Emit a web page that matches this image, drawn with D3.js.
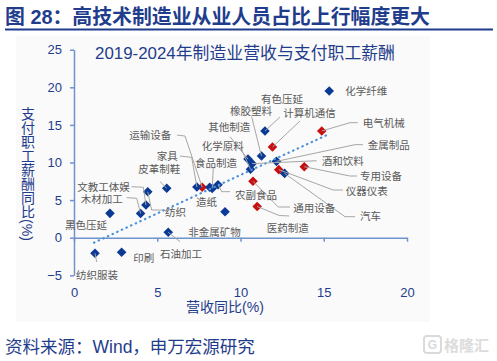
<!DOCTYPE html>
<html>
<head>
<meta charset="utf-8">
<script src="https://cdn.jsdelivr.net/npm/d3@7"></script>
<style>
    html, body { margin: 0; padding: 0; background: #fff; }
    svg { display: block; font-family: "Liberation Sans", "Noto Sans CJK SC", sans-serif; }
</style>
</head>
<body>
<div id="chart"></div>
<script>
const width = 497;
const height = 361;

// industries, revenue growth (x) and pay growth (y), red = highlighted group
const industries = ["化学纤维", "有色压延", "橡胶塑料", "计算机通信", "其他制造", "电气机械", "化学原料",
    "酒和饮料", "金属制品", "运输设备", "家具", "食品制造", "造纸", "农副食品", "皮革制鞋", "专用设备",
    "文教工体娱", "纺织", "木材加工", "仪器仪表", "汽车", "通用设备", "医药制造", "黑色压延",
    "非金属矿物", "石油加工", "印刷", "纺织服装"];
const revenueGrowth = [15.33, 11.47, 11.26, 11.92, 10.45, 14.88, 10.6,
    10.7, 12.16, 7.7, 7.38, 8.3, 8.15, 8.65, 5.57, 13.83,
    4.32, 4.43, 4.0, 12.3, 12.65, 10.75, 11.0, 2.16,
    9.07, 5.66, 2.86, 1.26];
const payGrowth = [19.5, 14.19, 10.86, 12.06, 10.45, 14.19, 9.1,
    9.85, 10.15, 6.7, 6.75, 6.55, 6.7, 7.05, 6.57, 9.44,
    4.35, 6.1, 3.22, 9.05, 8.55, 7.5, 4.15, 3.24,
    3.46, 0.72, -1.94, -2.07];
const highlighted = ["计算机通信", "电气机械", "运输设备", "专用设备", "仪器仪表", "通用设备", "医药制造"];

// dotted trend line
const trendX = [1.2, 15.2];
const trendY = [-0.66, 13.66];

const xTicks = [0, 5, 10, 15, 20];
const yTicks = [-5, 0, 5, 10, 15, 20, 25];

// label placement relative to each marker (px), with leader line elbows
const labelLayout = {
    "化学纤维": { dx: 16, dy: 0 },
    "有色压延": { dx: -4, dy: -31.7, leader: [[15, -14]] },
    "橡胶塑料": { dx: -31.5, dy: -45.3, leader: [[-9.8, -39.3]] },
    "计算机通信": { dx: 10.8, dy: -33.7, leader: [[27.5, -26]] },
    "其他制造": { dx: -39.7, dy: -32.4, leader: [[-18, -22.4]] },
    "电气机械": { dx: 40.9, dy: -8.3, leader: [[28.2, -8.3], [36, -8.3]] },
    "化学原料": { dx: -48.8, dy: -23.3, leader: [[-8.8, -19.3]] },
    "酒和饮料": { dx: 69.5, dy: -2.9, leader: [[64.5, -2.9]] },
    "金属制品": { dx: 91.2, dy: -16.1, leader: [[78.5, -16.7], [86.5, -16.7]] },
    "运输设备": { dx: -72.9, dy: -52.3, leader: [[-17.2, -51.3], [-25.2, -52.3]] },
    "家具": { dx: -40.2, dy: -30.9, leader: [[-5.2, -29.6], [-16.9, -30.9]] },
    "食品制造": { dx: -17.2, dy: -25.7, leader: [[1.1, -20.4]] },
    "造纸": { dx: -13.7, dy: 14.4 },
    "农副食品": { dx: 17, dy: 10.3, leader: [[3.7, 7], [12, 7]] },
    "皮革制鞋": { dx: -28.4, dy: -19, leader: [[-6.7, -6.6]] },
    "专用设备": { dx: 55.7, dy: 9.3, leader: [[45.7, 9.3], [52.7, 9.3]] },
    "文教工体娱": { dx: -68.6, dy: -17.7, leader: [[-2.6, -17.7], [-14.2, -18.3]] },
    "纺织": { dx: 17.2, dy: 19.9, leader: [[3.9, 18.2], [15.2, 18.2]] },
    "木材加工": { dx: -59.9, dy: -14.5, leader: [[-3.9, -15.2], [-13.9, -15.8]] },
    "仪器仪表": { dx: 66.9, dy: 21.4, leader: [[54.5, 20.4], [64.2, 20.4]] },
    "汽车": { dx: 75.4, dy: 42.6, leader: [[60.4, 43.3], [70.4, 43.3]] },
    "通用设备": { dx: 40.3, dy: 27, leader: [[25.3, 25.7], [37, 25.7]] },
    "医药制造": { dx: 9.5, dy: 21.8, leader: [[22, 9], [32, 9.5]] },
    "黑色压延": { dx: -45, dy: 11.7 },
    "非金属矿物": { dx: -36.7, dy: 20.6 },
    "石油加工": { dx: -8.2, dy: 22, leader: [[11.8, 9.4]] },
    "印刷": { dx: 11.7, dy: 6 },
    "纺织服装": { dx: -19, dy: 21.7, leader: [[1.7, 8.7]] }
};

const colors = {
    title: "#1f3d8c",
    axis: "#6f93cc",
    tick: "#1f3d8c",
    blue: "#0a3a94",
    red: "#c80f0f",
    label: "#595959",
    leader: "#a6a6a6",
    trend: "#4a90dc"
};

const points = industries.map((name, i) => ({
    name,
    x: revenueGrowth[i],
    y: payGrowth[i],
    hi: highlighted.includes(name)
}));

const svg = d3.select("#chart")
    .append("svg")
    .attr("width", width)
    .attr("height", height);

// header
svg.append("text")
    .attr("x", 5)
    .attr("y", 24)
    .attr("fill", colors.title)
    .attr("font-size", 20)
    .attr("font-weight", "bold")
    .attr("textLength", 425)
    .attr("lengthAdjust", "spacingAndGlyphs")
    .text("图 28：高技术制造业从业人员占比上行幅度更大");

svg.append("line")
    .attr("x1", 5).attr("x2", 493)
    .attr("y1", 29.5).attr("y2", 29.5)
    .attr("stroke", colors.title)
    .attr("stroke-width", 2);

// faint chart panel
svg.append("rect")
    .attr("x", 16).attr("y", 36)
    .attr("width", 414).attr("height", 286)
    .attr("fill", "#fafafa");

svg.append("text")
    .attr("x", 95)
    .attr("y", 53.5)
    .attr("dominant-baseline", "central")
    .attr("fill", colors.title)
    .attr("font-size", 17)
    .attr("textLength", 300)
    .attr("lengthAdjust", "spacingAndGlyphs")
    .text("2019-2024年制造业营收与支付职工薪酬");

const x = d3.scaleLinear().domain([0, 20]).range([74, 407]);
const y = d3.scaleLinear().domain([-5, 25]).range([275.3, 49.7]);

// y axis
const yAxis = svg.append("g")
    .attr("transform", `translate(${x(0)},0)`)
    .call(d3.axisLeft(y).tickValues(yTicks).tickSize(4).tickSizeOuter(0).tickPadding(8));
yAxis.selectAll("path, line").attr("stroke", colors.axis).attr("stroke-width", 1.5);
yAxis.selectAll("text")
    .attr("fill", colors.tick)
    .attr("font-size", 13)
    .attr("font-family", "Liberation Sans, sans-serif");

// x axis sits on zero, labels drop to the bottom of the plot
const xAxis = svg.append("g")
    .attr("transform", `translate(0,${y(0)})`)
    .call(d3.axisBottom(x).tickValues(xTicks).tickSize(4).tickSizeOuter(0)
        .tickPadding(y(-5) - y(0) + 8));
xAxis.selectAll("path, line").attr("stroke", colors.axis).attr("stroke-width", 1.5);
xAxis.selectAll("text")
    .attr("fill", colors.tick)
    .attr("font-size", 13)
    .attr("font-family", "Liberation Sans, sans-serif");

// axis titles
svg.append("text")
    .attr("x", 225)
    .attr("y", 307)
    .attr("text-anchor", "middle")
    .attr("dominant-baseline", "central")
    .attr("fill", colors.title)
    .attr("font-size", 14)
    .text("营收同比(%)");

svg.append("text")
    .attr("x", 27)
    .attr("y", 174)
    .attr("text-anchor", "middle")
    .style("writing-mode", "vertical-rl")
    .attr("fill", colors.title)
    .attr("font-size", 14)
    .text("支付职工薪酬同比(%)");

// markers
const diamond = d3.symbol().type(d3.symbolSquare).size(46);
svg.append("g")
    .selectAll("path")
    .data(points)
    .join("path")
    .attr("d", diamond)
    .attr("transform", d => `translate(${x(d.x)},${y(d.y)}) rotate(45)`)
    .attr("fill", d => d.hi ? colors.red : colors.blue);

// trend line
svg.append("line")
    .attr("x1", x(trendX[0])).attr("y1", y(trendY[0]))
    .attr("x2", x(trendX[1])).attr("y2", y(trendY[1]))
    .attr("stroke", colors.trend)
    .attr("stroke-width", 2.2)
    .attr("stroke-linecap", "round")
    .attr("stroke-dasharray", "0.5,4.6");

// leader lines
const leaderLine = d3.line();
svg.append("g")
    .selectAll("path")
    .data(points.filter(d => labelLayout[d.name] && labelLayout[d.name].leader))
    .join("path")
    .attr("d", d => {
        const px = x(d.x), py = y(d.y);
        const pts = [[px, py]].concat(labelLayout[d.name].leader.map(p => [px + p[0], py + p[1]]));
        return leaderLine(pts);
    })
    .attr("fill", "none")
    .attr("stroke", colors.leader)
    .attr("stroke-width", 1);

// labels
svg.append("g")
    .selectAll("text")
    .data(points)
    .join("text")
    .attr("x", d => x(d.x) + labelLayout[d.name].dx)
    .attr("y", d => y(d.y) + labelLayout[d.name].dy)
    .attr("dominant-baseline", "central")
    .attr("fill", colors.label)
    .attr("font-size", 10.5)
    .text(d => d.name);

// source line
svg.append("text")
    .attr("x", 5)
    .attr("y", 347)
    .attr("dominant-baseline", "central")
    .attr("fill", colors.title)
    .attr("font-size", 17.5)
    .text("资料来源：Wind，申万宏源研究");

// watermark
const wm = svg.append("g").attr("opacity", 0.9);
wm.append("rect")
    .attr("x", 424).attr("y", 336)
    .attr("width", 17).attr("height", 17)
    .attr("rx", 3)
    .attr("fill", "none")
    .attr("stroke", "#d6d6d6")
    .attr("stroke-width", 2);
wm.append("text")
    .attr("x", 432.5).attr("y", 345)
    .attr("text-anchor", "middle")
    .attr("dominant-baseline", "central")
    .attr("fill", "#d6d6d6")
    .attr("font-size", 12)
    .attr("font-weight", "bold")
    .text("G");
wm.append("text")
    .attr("x", 444).attr("y", 345)
    .attr("dominant-baseline", "central")
    .attr("fill", "#d9d9d9")
    .attr("font-size", 15)
    .attr("font-weight", "bold")
    .text("格隆汇");
</script>
</body>
</html>
